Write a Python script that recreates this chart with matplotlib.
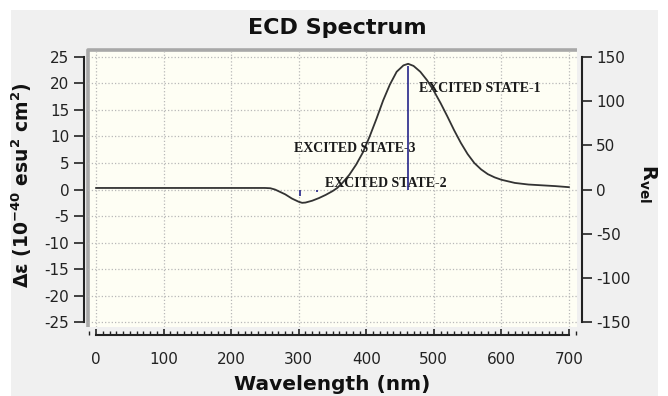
import matplotlib
matplotlib.use('Agg')
import matplotlib.pyplot as plt
from matplotlib.ticker import MultipleLocator, FixedLocator
from matplotlib.patches import Rectangle

plt.rcParams['axes.unicode_minus'] = False

# ---- data ----
wavelength = [0, 50, 100, 150, 200, 250, 258, 265, 270, 280, 290, 300, 305, 310,
              320, 330, 340, 350, 357, 365, 375, 385, 395, 405, 415, 425, 435,
              445, 455, 462, 470, 480, 490, 500, 510, 520, 530, 540, 550, 560,
              570, 580, 590, 600, 620, 640, 660, 680, 700]
delta_eps = [0.3, 0.3, 0.3, 0.3, 0.3, 0.3, 0.25, 0.0, -0.3, -0.9, -1.7, -2.3, -2.5,
             -2.45, -2.1, -1.6, -1.0, -0.3, 0.3, 1.3, 2.8, 4.7, 7.0, 10.0, 13.3,
             16.8, 19.8, 22.2, 23.4, 23.7, 23.3, 22.2, 20.6, 18.6, 16.3, 13.8,
             11.2, 8.8, 6.7, 5.0, 3.8, 2.9, 2.3, 1.85, 1.25, 0.95, 0.8, 0.65, 0.45]

state_names = ['EXCITED STATE-1', 'EXCITED STATE-2', 'EXCITED STATE-3']
state_wavelength = [462, 327, 302]
state_rvel = [140, -3, -7]

x_ticks = [0, 100, 200, 300, 400, 500, 600, 700]
left_ticks = [-25, -20, -15, -10, -5, 0, 5, 10, 15, 20, 25]
right_ticks = [-150, -100, -50, 0, 50, 100, 150]

# label anchor positions (data coords, left / center)
LABEL_POS = [(478, 19.0), (339, 1.2), (293, 7.8)]

W, H = 668, 396
fig = plt.figure(figsize=(W / 100, H / 100), dpi=100)
fig.patch.set_facecolor('white')
fig.patches.append(Rectangle((11 / W, 0), (658 - 11) / W, (H - 10) / H,
                             transform=fig.transFigure, facecolor='#f0f0f0',
                             edgecolor='none', zorder=-10))

ax = fig.add_axes([88 / W, (H - 327) / H, (577 - 88) / W, (327 - 50) / H])
ax.set_facecolor('#fefef4')
ax.set_xlim(-12, 712)
ax.set_ylim(-25.9, 26.3)
ratio = 6.0

spine_col = '#222222'
for s in ['top', 'right']:
    ax.spines[s].set_visible(False)
ax.spines['left'].set_position(('outward', 2.9))
ax.spines['left'].set_bounds(-25, 25)
ax.spines['bottom'].set_position(('outward', 6))
ax.spines['bottom'].set_bounds(0, 700)
for s in ['left', 'bottom']:
    ax.spines[s].set_color(spine_col)
    ax.spines[s].set_linewidth(1.5)

ax.xaxis.set_major_locator(FixedLocator(x_ticks))
ax.xaxis.set_minor_locator(MultipleLocator(10))
ax.yaxis.set_major_locator(FixedLocator(left_ticks))
ax.tick_params(axis='x', which='major', direction='in', length=4.5, width=1.2,
               pad=12, labelsize=11, colors=spine_col)
ax.tick_params(axis='x', which='minor', direction='in', length=2.6, width=1.0,
               colors=spine_col)
ax.tick_params(axis='y', which='major', direction='out', length=7, width=1.2,
               pad=3.5, labelsize=11, colors=spine_col)

ax.grid(True, which='major', linestyle=':', color='#b8b8b8', linewidth=0.9)

# gray frame on top and left of the plotting area
ax.plot([0, 0, 1], [0, 1, 1], transform=ax.transAxes, color='#a8a8a8', lw=2.6,
        clip_on=False, zorder=1, solid_capstyle='butt')

ax.plot(wavelength, delta_eps, color='#333333', lw=1.3, zorder=3)

ax2 = ax.twinx()
ax2.set_ylim(-25.9 * ratio, 26.3 * ratio)
for s in ['top', 'left', 'bottom']:
    ax2.spines[s].set_visible(False)
ax2.spines['right'].set_position(('outward', 3.6))
ax2.spines['right'].set_bounds(-150, 150)
ax2.spines['right'].set_color(spine_col)
ax2.spines['right'].set_linewidth(1.5)
ax2.yaxis.set_major_locator(FixedLocator(right_ticks))
ax2.tick_params(axis='y', which='major', direction='out', length=7, width=1.2,
                pad=3, labelsize=11, colors=spine_col)

ax2.vlines(state_wavelength, 0, state_rvel, colors='#25258a', lw=1.2, zorder=4)

for name, (lx, ly) in zip(state_names, LABEL_POS):
    ax.text(lx, ly, name, fontfamily='Liberation Serif', fontweight='bold',
            fontsize=10, color='#1a1a1a', ha='left', va='center', zorder=5)

fig.text(337 / W, 1 - 28 / H, 'ECD Spectrum', ha='center', va='center',
         fontsize=16, fontweight='bold', color='#111111')
fig.text(332 / W, 1 - 384 / H, 'Wavelength (nm)', ha='center', va='center',
         fontsize=14.5, fontweight='bold', color='#111111')
fig.text(22 / W, 1 - 185 / H,
         r'Δε (10$^{\mathbf{-40}}$ esu$^{\mathbf{2}}$ cm$^{\mathbf{2}}$)',
         ha='center', va='center', rotation=90, fontsize=13.5,
         fontweight='bold', color='#111111')
fig.text(648 / W, 1 - 183 / H, r'R$_{\mathbf{vel}}$', ha='center', va='center',
         rotation=-90, fontsize=14, fontweight='bold', color='#111111')

fig.savefig('out.png', dpi=100)
